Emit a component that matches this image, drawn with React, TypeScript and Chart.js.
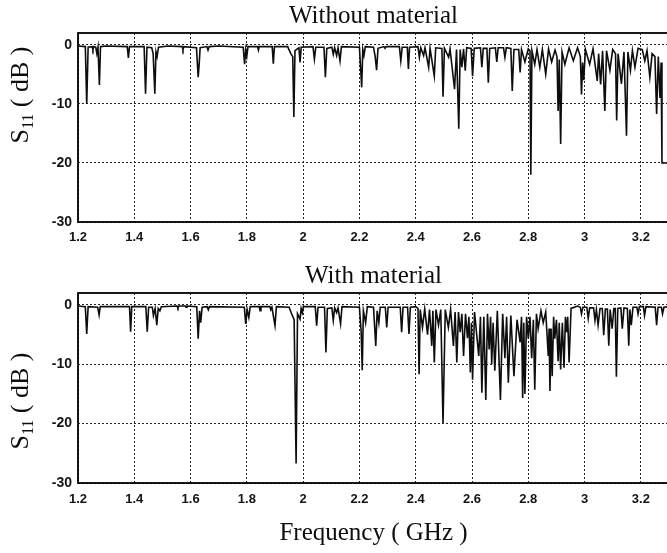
import React, { useEffect, useRef } from "react";
import { Chart, registerables } from "chart.js";

Chart.register(...registerables);

// ---- axis ticks ----
const xTickValues = [1.2, 1.4, 1.6, 1.8, 2.0, 2.2, 2.4, 2.6, 2.8, 3.0, 3.2];
const xTickLabels = ["1.2", "1.4", "1.6", "1.8", "2", "2.2", "2.4", "2.6", "2.8", "3", "3.2"];
const yTickValues = [-30, -20, -10, 0];
const yTickLabels = ["-30", "-20", "-10", "0"];

const topTitle = "Without material";
const bottomTitle = "With material";
const xAxisTitle = "Frequency ( GHz )";

// ---- S11 (dB) vs frequency (GHz) ----
const withoutMaterial: [number, number][] = [
  [1.2, -0.2], [1.226, -0.3], [1.231, -10], [1.236, -0.4], [1.25, -0.3], [1.253, -0.8], [1.256, -0.3],
  [1.263, -0.4], [1.267, -1.5], [1.271, -0.4], [1.276, -6.8], [1.28, -0.3], [1.3, -0.2],
  [1.375, -0.3], [1.379, -2.2], [1.383, -0.3], [1.435, -0.3], [1.44, -8.3], [1.445, -0.4],
  [1.462, -0.5], [1.467, -1.5], [1.473, -8.3], [1.477, -1.2], [1.481, -2], [1.486, -0.4],
  [1.52, -0.2], [1.57, -0.3], [1.573, -0.8], [1.576, -0.3], [1.621, -0.5], [1.627, -5.5],
  [1.631, -3], [1.634, -0.5], [1.658, -0.3], [1.662, -0.9], [1.666, -0.3], [1.7, -0.2],
  [1.787, -0.4], [1.792, -3.3], [1.796, -0.8], [1.8, -1.9], [1.804, -0.3], [1.838, -0.3],
  [1.841, -0.9], [1.844, -0.3], [1.89, -0.3], [1.894, -3.2], [1.898, -0.3], [1.945, -0.3],
  [1.956, -1.5], [1.963, -2], [1.967, -12.2], [1.971, -1], [1.985, -0.5], [1.989, -3],
  [1.993, -0.4], [2.035, -0.3], [2.04, -2.4], [2.045, -0.4], [2.074, -0.4], [2.079, -5.5],
  [2.084, -0.6], [2.102, -0.4], [2.107, -1.6], [2.112, -0.5], [2.119, -1.8], [2.124, -0.5],
  [2.131, -2.7], [2.136, -0.3], [2.2, -0.4], [2.208, -7.2], [2.212, -0.8], [2.216, -1.8],
  [2.221, -0.3], [2.25, -0.4], [2.256, -2], [2.261, -4.3], [2.266, -0.6], [2.287, -0.3],
  [2.291, -0.6], [2.295, -0.3], [2.342, -0.3], [2.347, -2.7], [2.352, -0.4], [2.37, -0.4],
  [2.374, -4.1], [2.378, -0.4], [2.408, -0.3], [2.413, -2.1], [2.418, -0.5], [2.428, -1.8],
  [2.433, -0.5], [2.446, -3.8], [2.451, -0.6], [2.466, -5.3], [2.471, -0.5], [2.493, -0.6],
  [2.497, -8.8], [2.502, -0.6], [2.517, -2.1], [2.522, -0.7], [2.538, -7.5], [2.545, -0.8],
  [2.553, -14.2], [2.558, -0.8], [2.564, -3.8], [2.57, -0.7], [2.576, -4.4], [2.581, -0.5],
  [2.597, -0.6], [2.602, -5.3], [2.608, -0.6], [2.63, -0.5], [2.635, -3.8], [2.64, -0.6],
  [2.653, -0.6], [2.658, -6.4], [2.663, -0.6], [2.683, -0.5], [2.688, -2.9], [2.693, -0.5],
  [2.712, -0.5], [2.717, -2.1], [2.722, -0.5], [2.738, -0.6], [2.743, -7.8], [2.749, -0.8],
  [2.766, -0.8], [2.771, -4.7], [2.776, -0.8], [2.788, -2.9], [2.8, -0.7], [2.806, -1],
  [2.809, -22], [2.813, -1], [2.823, -3.3], [2.831, -0.8], [2.841, -3.8], [2.85, -0.8],
  [2.862, -5], [2.872, -0.7], [2.883, -2.9], [2.895, -0.9], [2.902, -2], [2.906, -11.2],
  [2.91, -2.5], [2.915, -16.8], [2.92, -1.2], [2.93, -3.3], [2.945, -0.5], [2.96, -2.7],
  [2.975, -0.5], [2.985, -2], [2.989, -8.4], [2.993, -3], [2.997, -6], [3.003, -0.8],
  [3.018, -3.3], [3.03, -0.7], [3.045, -6.1], [3.05, -1.5], [3.057, -6.7], [3.064, -1],
  [3.072, -11.2], [3.078, -1], [3.09, -4.3], [3.1, -0.8], [3.11, -1.5], [3.114, -12.8],
  [3.119, -1.5], [3.131, -6.6], [3.14, -1.2], [3.149, -15.4], [3.154, -1.2], [3.163, -4.3],
  [3.17, -1], [3.179, -3.8], [3.19, -0.6], [3.205, -0.8], [3.214, -2.7], [3.222, -1],
  [3.232, -5.5], [3.24, -1.5], [3.25, -2], [3.256, -11.7], [3.262, -2], [3.268, -9],
  [3.272, -3], [3.275, -20], [3.3, -20],
];

const withMaterial: [number, number][] = [
  [1.2, -0.2], [1.226, -0.3], [1.231, -4.9], [1.236, -0.3], [1.27, -0.4], [1.275, -1.7],
  [1.279, -0.3], [1.383, -0.3], [1.387, -4.5], [1.391, -0.3], [1.441, -0.3], [1.446, -4.5],
  [1.451, -0.4], [1.464, -0.4], [1.468, -1.8], [1.474, -0.6], [1.48, -3.4], [1.485, -0.6],
  [1.491, -1], [1.496, -0.3], [1.552, -0.2], [1.555, -0.5], [1.558, -0.2], [1.581, -0.2],
  [1.584, -0.4], [1.587, -0.2], [1.622, -0.3], [1.627, -5.7], [1.632, -1], [1.636, -3],
  [1.641, -0.4], [1.659, -0.3], [1.663, -0.8], [1.667, -0.3], [1.791, -0.4], [1.796, -3.2],
  [1.801, -0.8], [1.807, -2.1], [1.812, -0.3], [1.844, -0.3], [1.847, -1], [1.85, -0.3],
  [1.882, -0.3], [1.885, -0.8], [1.889, -0.4], [1.9, -3.5], [1.905, -0.3], [1.95, -0.4],
  [1.959, -1.5], [1.968, -2.5], [1.975, -26.7], [1.98, -1.5], [1.989, -2.4], [1.993, -0.6],
  [1.997, -1.3], [2.001, -0.3], [2.043, -0.3], [2.048, -3.5], [2.053, -0.4], [2.076, -0.4],
  [2.081, -8], [2.086, -0.6], [2.102, -0.5], [2.107, -2.6], [2.112, -0.5], [2.119, -1.3],
  [2.124, -0.5], [2.133, -3.2], [2.138, -0.3], [2.2, -0.4], [2.206, -4.4], [2.21, -11],
  [2.214, -1], [2.222, -3], [2.228, -0.3], [2.25, -0.4], [2.258, -6.9], [2.263, -1],
  [2.269, -3], [2.274, -0.4], [2.292, -0.4], [2.297, -3.8], [2.302, -0.4], [2.345, -0.4],
  [2.35, -4.6], [2.355, -0.4], [2.371, -0.4], [2.376, -4.9], [2.381, -0.4], [2.4, -0.3],
  [2.408, -0.6], [2.412, -11.7], [2.416, -0.8], [2.424, -3.8], [2.432, -0.7], [2.442, -5],
  [2.449, -0.8], [2.457, -6.9], [2.461, -1], [2.466, -9.7], [2.472, -0.8], [2.481, -3.4],
  [2.489, -0.8], [2.497, -19.9], [2.505, -0.8], [2.516, -3.8], [2.524, -0.8], [2.534, -6.9],
  [2.54, -1.2], [2.546, -9.7], [2.552, -1.2], [2.558, -4.6], [2.564, -1.5], [2.57, -8.6],
  [2.577, -1.5], [2.584, -5.6], [2.589, -2], [2.594, -11.4], [2.598, -3], [2.602, -12.6],
  [2.609, -1.2], [2.624, -8.6], [2.63, -2], [2.635, -14.8], [2.642, -2], [2.649, -16],
  [2.655, -1.5], [2.661, -7.5], [2.666, -2], [2.67, -10], [2.675, -3], [2.681, -11.1],
  [2.69, -1], [2.701, -16], [2.709, -1.5], [2.717, -9], [2.723, -2], [2.729, -13.1],
  [2.738, -1.8], [2.749, -12], [2.76, -2.5], [2.771, -6.3], [2.776, -2], [2.78, -15.7],
  [2.784, -3], [2.788, -15], [2.794, -2], [2.8, -5.7], [2.806, -2], [2.812, -9],
  [2.818, -2.5], [2.823, -14.3], [2.829, -1.5], [2.835, -4], [2.845, -1], [2.853, -3],
  [2.862, -1.2], [2.871, -8.6], [2.874, -4], [2.877, -14.5], [2.881, -4], [2.885, -12],
  [2.89, -2], [2.894, -5.7], [2.9, -2.5], [2.906, -9.5], [2.91, -3], [2.915, -10.9],
  [2.921, -3], [2.927, -10.6], [2.932, -2], [2.936, -4.6], [2.94, -2], [2.945, -9.7],
  [2.952, -0.6], [2.975, -0.2], [2.985, -0.4], [2.989, -1.5], [2.994, -0.4], [3.008, -0.4],
  [3.013, -2.3], [3.018, -0.5], [3.032, -0.5], [3.037, -2.6], [3.042, -0.8], [3.048, -3.4],
  [3.055, -0.6], [3.063, -0.6], [3.068, -5.1], [3.074, -0.7], [3.081, -0.7], [3.086, -6.9],
  [3.091, -0.8], [3.098, -4], [3.104, -0.6], [3.109, -0.6], [3.113, -12.1], [3.118, -0.6],
  [3.129, -0.5], [3.134, -4], [3.14, -0.5], [3.152, -0.6], [3.157, -6.9], [3.161, -0.8],
  [3.166, -3.4], [3.172, -0.4], [3.186, -0.4], [3.19, -1.5], [3.195, -0.3], [3.209, -0.3],
  [3.213, -1.8], [3.218, -0.3], [3.251, -0.4], [3.256, -3.4], [3.261, -0.4], [3.273, -0.4],
  [3.277, -1.5], [3.282, -0.4], [3.3, -0.3],
];

const SERIF = '"Liberation Serif", "Times New Roman", serif';
const SANS = '"Liberation Sans", Arial, sans-serif';
const INK = "#0d0d0d";

// draws the closed frame around the plot area
const framePlugin = {
  id: "frame",
  afterDatasetsDraw(chart: any) {
    const { ctx, chartArea } = chart;
    ctx.save();
    ctx.strokeStyle = "#000";
    ctx.lineWidth = 1.8;
    ctx.strokeRect(chartArea.left, chartArea.top, chartArea.right - chartArea.left, chartArea.bottom - chartArea.top);
    ctx.restore();
  },
};

// rotated y-axis title with a real subscript
const yTitlePlugin = {
  id: "yTitle",
  afterDraw(chart: any, _args: any, opts: any) {
    if (!opts || !opts.text) return;
    const ctx = chart.ctx;
    const size = opts.size;
    const big = `${size}px ${SERIF}`;
    const small = `${Math.round(size * 0.62)}px ${SERIF}`;
    ctx.save();
    ctx.translate(opts.x, opts.y);
    ctx.rotate(-Math.PI / 2);
    ctx.fillStyle = INK;
    ctx.textBaseline = "alphabetic";
    ctx.textAlign = "left";
    ctx.font = big;
    const w1 = ctx.measureText(opts.text).width;
    const w3 = ctx.measureText(opts.suffix).width;
    ctx.font = small;
    const w2 = ctx.measureText(opts.sub).width;
    let x = -(w1 + w2 + w3) / 2;
    const base = size * 0.25;
    ctx.font = big;
    ctx.fillText(opts.text, x, base);
    x += w1;
    ctx.font = small;
    ctx.fillText(opts.sub, x, base + size * 0.2);
    x += w2;
    ctx.font = big;
    ctx.fillText(opts.suffix, x, base);
    ctx.restore();
  },
};

type PanelProps = {
  data: [number, number][];
  title: string;
  height: number;
  xAxisHeight: number;
  xTickPad: number;
  showXTitle: boolean;
  yTitleY: number;
};

function Panel({ data, title, height, xAxisHeight, xTickPad, showXTitle, yTitleY }: PanelProps) {
  const ref = useRef<HTMLCanvasElement | null>(null);
  useEffect(() => {
    if (!ref.current) return;
    const chart = new Chart(ref.current, {
      type: "line",
      data: {
        datasets: [
          {
            data: data.map(([f, v]) => ({ x: f, y: v })),
            borderColor: INK,
            borderWidth: 1.6,
            pointRadius: 0,
            tension: 0,
            fill: false,
          },
        ],
      },
      options: {
        animation: false,
        responsive: false,
        devicePixelRatio: 1,
        layout: { padding: { left: 0, right: 3, top: 0, bottom: 0 } },
        plugins: {
          legend: { display: false },
          tooltip: { enabled: false },
          title: {
            display: true,
            text: title,
            fullSize: false,
            color: INK,
            font: { family: SERIF, size: 25, weight: "normal" as any, lineHeight: 1.2 },
            padding: { top: 1, bottom: 2 },
          },
          yTitle: { text: "S", sub: "11", suffix: " ( dB )", size: 26, x: 21, y: yTitleY },
        } as any,
        scales: {
          x: {
            type: "linear",
            min: 1.2,
            max: 3.3,
            afterBuildTicks: (scale: any) => {
              scale.ticks = xTickValues.map((v) => ({ value: v }));
            },
            afterFit: (scale: any) => {
              scale.height = xAxisHeight;
            },
            ticks: {
              autoSkip: false,
              maxRotation: 0,
              padding: xTickPad,
              color: "#141414",
              font: { family: SANS, size: 13, weight: "bold" as any },
              callback: (_v: any, i: number) => xTickLabels[i],
            },
            grid: { color: "#222", lineWidth: 1, drawTicks: false },
            border: { display: false, dash: [2, 2] },
            title: {
              display: showXTitle,
              text: xAxisTitle,
              color: INK,
              font: { family: SERIF, size: 25, weight: "normal" as any, lineHeight: 1.2 },
              padding: { top: 0, bottom: 5 },
            },
          },
          y: {
            type: "linear",
            min: -30,
            max: 2,
            afterBuildTicks: (scale: any) => {
              scale.ticks = yTickValues.map((v) => ({ value: v }));
            },
            afterFit: (scale: any) => {
              scale.width = 78;
            },
            ticks: {
              padding: 6,
              color: "#141414",
              font: { family: SANS, size: 14, weight: "bold" as any },
              callback: (_v: any, i: number) => yTickLabels[i],
            },
            grid: { color: "#222", lineWidth: 1, drawTicks: false },
            border: { display: false, dash: [2, 2] },
          },
        },
      },
      plugins: [framePlugin, yTitlePlugin],
    });
    return () => chart.destroy();
  }, [data, title, height, xAxisHeight, xTickPad, showXTitle, yTitleY]);

  return <canvas ref={ref} width={672} height={height} style={{ display: "block" }} />;
}

export default function App() {
  return (
    <div
      style={{
        position: "absolute",
        left: 0,
        top: 0,
        width: 667,
        height: 553,
        overflow: "hidden",
        background: "#fff",
      }}
    >
      <div style={{ position: "absolute", left: 0, top: 0 }}>
        <Panel data={withoutMaterial} title={topTitle} height={260} xAxisHeight={38} xTickPad={8} showXTitle={false} yTitleY={95} />
      </div>
      <div style={{ position: "absolute", left: 0, top: 260 }}>
        <Panel data={withMaterial} title={bottomTitle} height={293} xAxisHeight={70} xTickPad={9} showXTitle={true} yTitleY={141} />
      </div>
    </div>
  );
}
